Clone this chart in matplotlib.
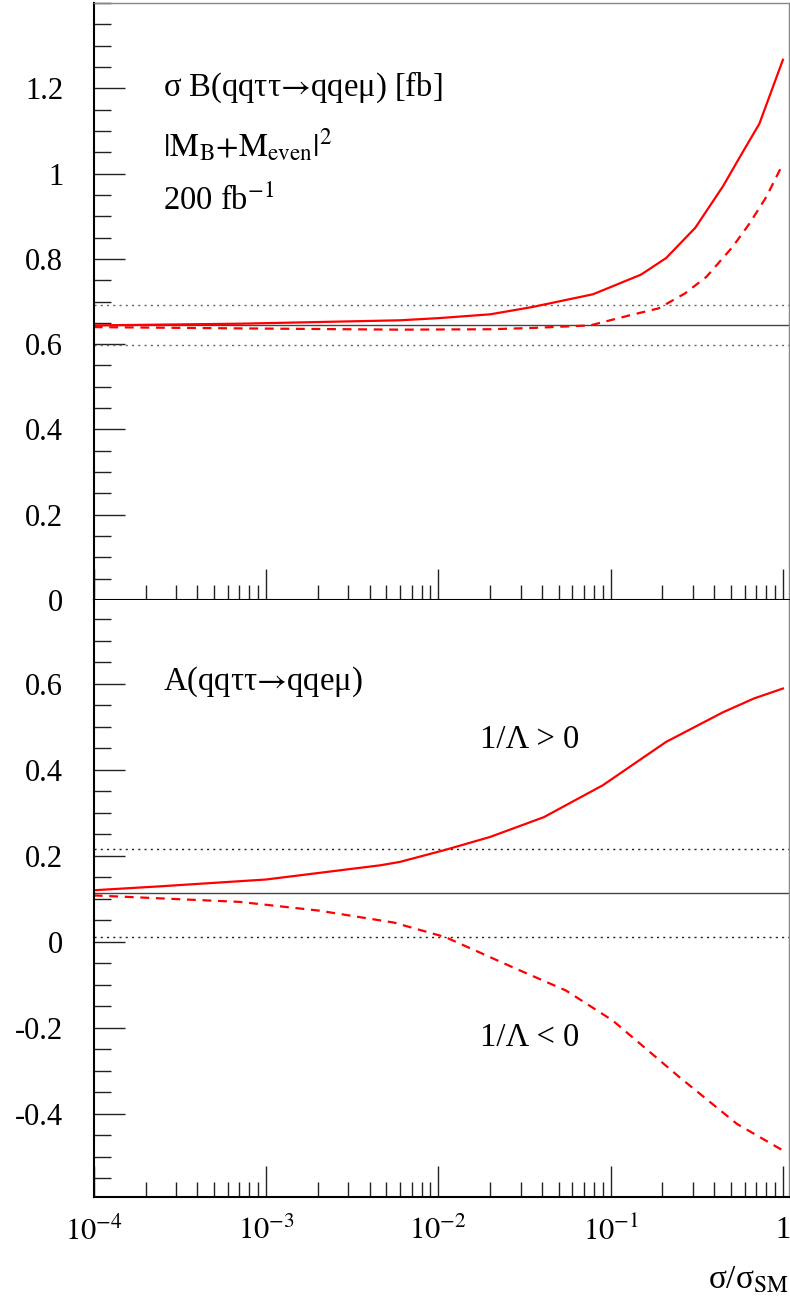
import matplotlib
matplotlib.use('Agg')
import matplotlib.pyplot as plt
from matplotlib.ticker import FixedLocator, MultipleLocator, LogLocator, NullFormatter

plt.rcParams['font.family'] = ['Liberation Serif', 'DejaVu Serif']
plt.rcParams['mathtext.fontset'] = 'stix'
plt.rcParams['axes.unicode_minus'] = False

# sigma B vs sigma/sigma_SM (top)
x_sb_pos = [1e-4, 7.1e-4, 6e-3, 1e-2, 2e-2, 3.5e-2, 7.9e-2, 0.15, 0.21, 0.31, 0.45, 0.57, 0.73, 1.0]
sb_pos = [0.644, 0.648, 0.656, 0.661, 0.670, 0.687, 0.717, 0.763, 0.802, 0.873, 0.971, 1.043, 1.117, 1.267]
x_sb_neg = [1e-4, 7.1e-4, 6e-3, 2e-2, 3.5e-2, 7.6e-2, 0.13, 0.19, 0.27, 0.36, 0.51, 0.64, 0.80, 1.0]
sb_neg = [0.640, 0.637, 0.634, 0.635, 0.638, 0.644, 0.668, 0.684, 0.719, 0.758, 0.828, 0.883, 0.945, 1.023]
sb_sm = 0.644
sb_band = [0.597, 0.691]

# asymmetry (bottom)
x_a_pos = [1e-4, 2.4e-4, 1e-3, 4.6e-3, 6e-3, 1.1e-2, 2e-2, 4.1e-2, 9e-2, 0.21, 0.45, 0.68, 1.0]
a_pos = [0.120, 0.129, 0.145, 0.178, 0.186, 0.214, 0.244, 0.290, 0.364, 0.465, 0.534, 0.566, 0.589]
x_a_neg = [1e-4, 7e-4, 2e-3, 5.5e-3, 1.1e-2, 2.7e-2, 5.5e-2, 0.103, 0.25, 0.54, 1.0]
a_neg = [0.108, 0.093, 0.073, 0.045, 0.011, -0.059, -0.113, -0.183, -0.314, -0.423, -0.485]
a_sm = 0.114
a_band = [0.011, 0.217]

xticks = [1e-4, 1e-3, 1e-2, 1e-1, 1]
xlabels = [r'$\mathrm{10^{-4}}$', r'$\mathrm{10^{-3}}$', r'$\mathrm{10^{-2}}$', r'$\mathrm{10^{-1}}$', '1']
yticks_top = [0, 0.2, 0.4, 0.6, 0.8, 1.0, 1.2]
ylabels_top = ['0', '0.2', '0.4', '0.6', '0.8', '1', '1.2']
yticks_bot = [-0.4, -0.2, 0, 0.2, 0.4, 0.6]
ylabels_bot = ['-0.4', '-0.2', '0', '0.2', '0.4', '0.6']

fig = plt.figure(figsize=(7.9, 13.07), dpi=100)
L, W, H = 0.1186, 0.8801, 0.4568
ax1 = fig.add_axes([L, 0.5409, W, H])
ax2 = fig.add_axes([L, 0.0842, W, H])

red = '#ff0000'
for ax in (ax1, ax2):
    ax.set_xscale('log')
    ax.set_xlim(1e-4, 1.084)
    ax.spines['left'].set_linewidth(1.5)
    ax.spines['bottom'].set_linewidth(1.5)
    ax.spines['top'].set_color('#888888')
    ax.spines['right'].set_color('#888888')
    ax.spines['top'].set_linewidth(1.0)
    ax.spines['right'].set_linewidth(1.0)
    ax.xaxis.set_major_locator(FixedLocator(xticks))
    ax.xaxis.set_minor_locator(LogLocator(base=10, subs=range(2, 10), numticks=20))
    ax.xaxis.set_minor_formatter(NullFormatter())
    ax.yaxis.set_minor_locator(MultipleLocator(0.05))
    ax.tick_params(which='both', direction='in', top=False, right=False, color='#222222', width=1.0)
    ax.tick_params(which='major', length=22, labelsize=22)
    ax.tick_params(which='minor', length=11)
    ax.tick_params(axis='y', which='minor', length=12)
    ax.tick_params(axis='y', pad=22)
    ax.tick_params(axis='x', pad=14)

ax2.spines['top'].set_visible(False)

# top panel
ax1.set_ylim(0, 1.40)
ax1.yaxis.set_major_locator(FixedLocator(yticks_top))
ax1.set_yticklabels(ylabels_top)
ax1.set_xticklabels([])
ax1.axhline(sb_sm, color='#444444', lw=1.0)
for v in sb_band:
    ax1.axhline(v, color='#666666', lw=1.0, ls=(0, (1.5, 3)))
ax1.plot(x_sb_pos, sb_pos, color=red, lw=1.6)
ax1.plot(x_sb_neg, sb_neg, color=red, lw=1.6, ls=(0, (4, 3)))

fs = 23.5
ax1.text(0.1, 0.859, 'σ B(qqττ$→$qqeμ) [fb]', transform=ax1.transAxes, fontsize=fs, va='center', ha='left')
ax1.text(0.1, 0.762, r'$\mathrm{|M_B{+}M_{even}|^2}$', transform=ax1.transAxes, fontsize=fs, va='center', ha='left')
ax1.text(0.1, 0.668, r'200 fb$^{\mathrm{-1}}$', transform=ax1.transAxes, fontsize=fs, va='center', ha='left')

# bottom panel
ax2.set_ylim(-0.593, 0.795)
ax2.yaxis.set_major_locator(FixedLocator(yticks_bot))
ax2.set_yticklabels(ylabels_bot)
ax2.set_xticklabels(xlabels)
ax2.axhline(a_sm, color='#444444', lw=1.0)
for v in a_band:
    ax2.axhline(v, color='#222222', lw=1.0, ls=(0, (1.5, 3)))
ax2.plot(x_a_pos, a_pos, color=red, lw=1.6)
ax2.plot(x_a_neg, a_neg, color=red, lw=1.6, ls=(0, (4, 3)))

ax2.text(0.1, 0.8626, 'A(qqττ$→$qqeμ)', transform=ax2.transAxes, fontsize=fs, va='center', ha='left')
ax2.text(0.5556, 0.7655, '1/Λ > 0', transform=ax2.transAxes, fontsize=fs, va='center', ha='left')
ax2.text(0.5556, 0.2663, '1/Λ < 0', transform=ax2.transAxes, fontsize=fs, va='center', ha='left')

fig.text(0.999, 0.0145, r'σ/σ$_{\mathrm{SM}}$', fontsize=24, ha='right', va='baseline')

fig.savefig('out.png', dpi=100)
